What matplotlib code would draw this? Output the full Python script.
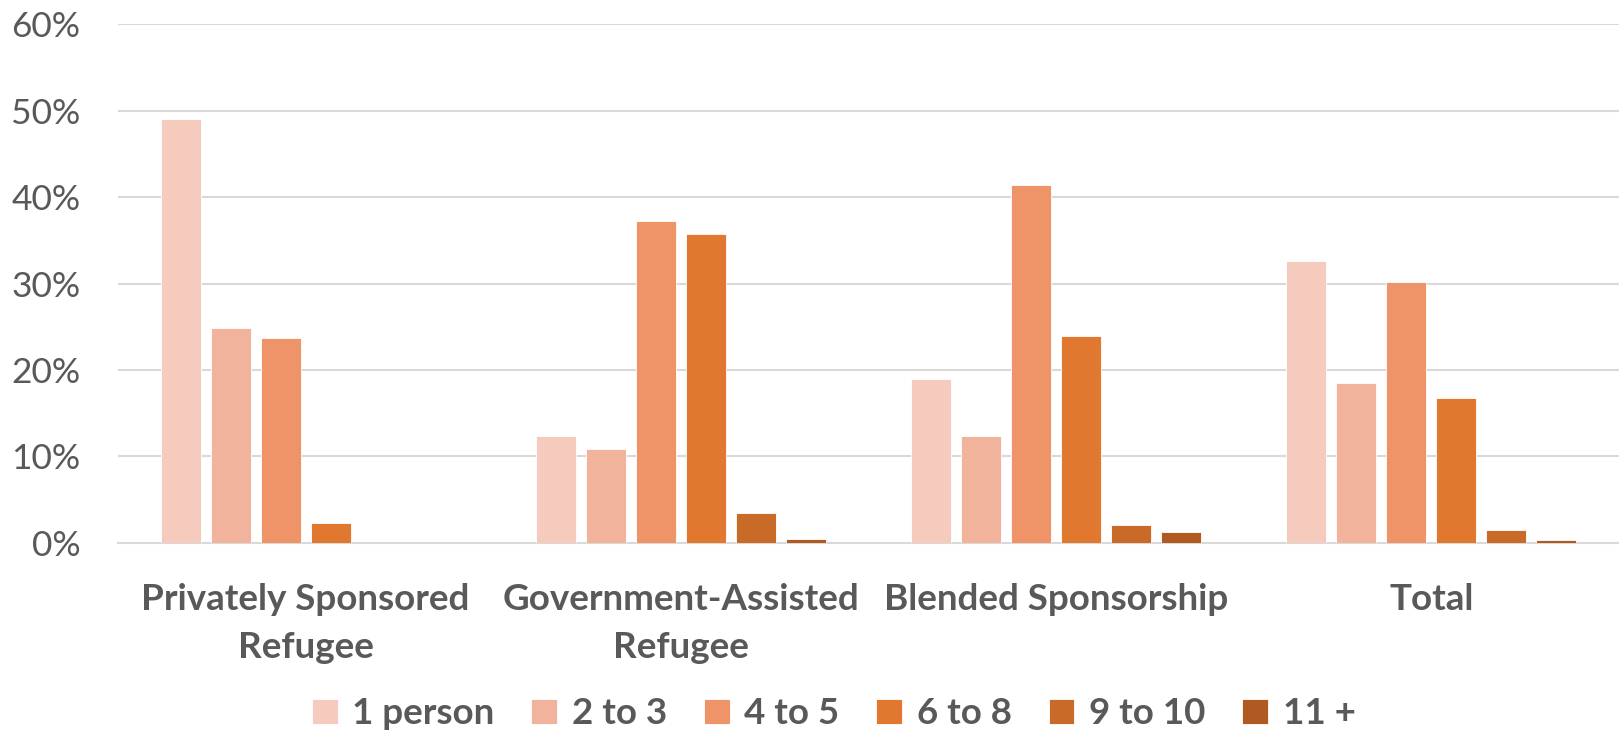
import matplotlib
matplotlib.use("Agg")
import matplotlib.pyplot as plt
import numpy as np

plt.rcParams['font.family'] = ['Lato', 'DejaVu Sans']

categories = ["Privately Sponsored\nRefugee", "Government-Assisted\nRefugee", "Blended Sponsorship", "Total"]
series_names = ["1 person", "2 to 3", "4 to 5", "6 to 8", "9 to 10", "11 +"]
# valores en % por categoria
one_person = [49.0, 12.3, 19.0, 32.6]
two_three = [24.8, 10.8, 12.3, 18.5]
four_five = [23.7, 37.2, 41.4, 30.2]
six_eight = [2.3, 35.7, 23.9, 16.7]
nine_ten = [0.0, 3.4, 2.0, 1.5]
eleven_plus = [0.0, 0.4, 1.2, 0.3]
colores = ["#F5CBBE", "#F2B39C", "#EF9368", "#E0782F", "#C96A28", "#B05A22"]

series = [one_person, two_three, four_five, six_eight, nine_ten, eleven_plus]
gris = "#595959"

fig = plt.figure(figsize=(16.19, 7.36), dpi=100)
ax = fig.add_axes([0.0729, 0.2626, 0.927, 0.7044])

x = np.arange(len(categories))
paso = 0.1333
ancho = 0.107
for i in range(len(series)):
    ax.bar(x + (i - 2.5) * paso, series[i], ancho, color=colores[i], label=series_names[i],
           edgecolor="#FFFFFF", linewidth=0.6, zorder=3)

ax.set_xlim(-0.5, len(categories) - 0.5)
ax.set_ylim(0, 60)
ax.set_yticks(np.arange(0, 61, 10))
ax.set_yticklabels([str(v) + "%" for v in range(0, 61, 10)], fontsize=25.5, color=gris)
ax.set_xticks(x)
ax.set_xticklabels(categories, fontsize=26.5, fontweight="bold", color=gris, linespacing=1.55)
ax.tick_params(axis="y", length=0, pad=27)
ax.tick_params(axis="x", length=0, pad=29)
ax.grid(axis="y", color="#D9D9D9", linewidth=1.5, zorder=0)
for s in ["top", "right", "left"]:
    ax.spines[s].set_visible(False)
ax.spines["bottom"].set_color("#D9D9D9")
ax.spines["bottom"].set_linewidth(1.5)

leg = fig.legend(loc="center", bbox_to_anchor=(0.515, 0.03), ncol=6, frameon=False,
                 handlelength=0.7, handleheight=0.7, handletextpad=0.4, columnspacing=1.0,
                 prop={"size": 26.5, "weight": "bold"})
for t in leg.get_texts():
    t.set_color(gris)

plt.savefig("out.png", dpi=100)
